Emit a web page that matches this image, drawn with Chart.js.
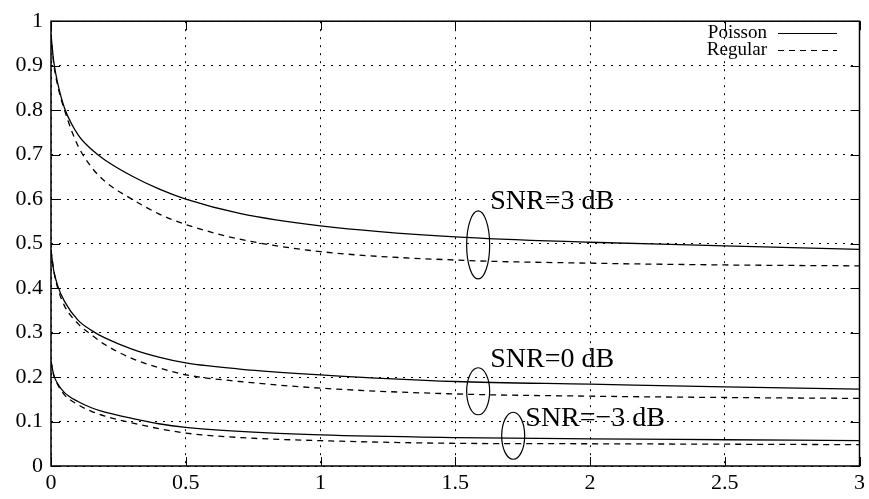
<!DOCTYPE html>
<html>
<head>
<meta charset="utf-8">
<script src="https://cdn.jsdelivr.net/npm/chart.js@4/dist/chart.umd.min.js"></script>
<style>
  html, body { margin: 0; padding: 0; background: #fff; }
  #wrap { width: 869px; height: 499px; }
</style>
</head>
<body>
<div id="wrap"><canvas id="snrChart" width="869" height="499"></canvas></div>
<script>
(() => {
  'use strict'

  const xValues = [0, 0.01, 0.025, 0.05, 0.1, 0.15, 0.2, 0.3, 0.4, 0.5, 0.7, 1, 1.5, 2, 2.5, 3];

  const poisson3dB = [0.97, 0.91, 0.86, 0.805, 0.745, 0.712, 0.688, 0.652, 0.623, 0.60, 0.568, 0.54, 0.515, 0.503, 0.495, 0.487];
  const regular3dB = [0.97, 0.905, 0.855, 0.80, 0.72, 0.672, 0.64, 0.60, 0.567, 0.543, 0.51, 0.482, 0.463, 0.456, 0.452, 0.45];
  const poisson0dB = [0.485, 0.44, 0.405, 0.37, 0.328, 0.305, 0.288, 0.263, 0.245, 0.232, 0.218, 0.205, 0.19, 0.184, 0.178, 0.173];
  const regular0dB = [0.485, 0.44, 0.40, 0.36, 0.32, 0.295, 0.273, 0.242, 0.221, 0.205, 0.19, 0.175, 0.162, 0.157, 0.154, 0.152];
  const poissonM3dB = [0.235, 0.205, 0.185, 0.165, 0.145, 0.131, 0.121, 0.107, 0.095, 0.087, 0.078, 0.07, 0.064, 0.061, 0.059, 0.057];
  const regularM3dB = [0.235, 0.205, 0.183, 0.16, 0.138, 0.123, 0.112, 0.097, 0.084, 0.074, 0.064, 0.057, 0.051, 0.05, 0.049, 0.048];

  const seriesLabels = ['Poisson', 'Regular'];

  // SNR annotations: ellipse centre and label anchor, in data units
  const snrTexts = ['SNR=3 dB', 'SNR=0 dB', 'SNR=\u22123 dB'];
  const ellipseX = [1.585, 1.585, 1.715];
  const ellipseY = [0.497, 0.168, 0.068];
  const ellipseRy = [34, 23.5, 23.5];
  const textX = [1.63, 1.63, 1.76];
  const textY = [0.594, 0.239, 0.107];

  const serif = '"Liberation Serif", "DejaVu Serif", serif';
  const toPoints = ys => xValues.map((x, i) => ({ x: x, y: ys[i] }));
  const fmt = v => String(+v.toFixed(2));

  const line = (label, ys, dashed) => ({
    label: label,
    data: toPoints(ys),
    borderColor: '#000',
    borderWidth: 1.3,
    borderDash: dashed ? [6, 5] : [],
    pointRadius: 0,
    fill: false,
    cubicInterpolationMode: 'monotone'
  });

  const frame = {
    id: 'frame',
    afterDraw(chart) {
      const { ctx, chartArea: a, scales } = chart;
      const xs = scales.x, ys = scales.y;
      ctx.save();
      ctx.strokeStyle = '#000';
      ctx.lineWidth = 1.5;
      ctx.setLineDash([]);
      ctx.strokeRect(a.left, a.top, a.right - a.left, a.bottom - a.top);

      // inward ticks on all four sides
      ctx.lineWidth = 1;
      const t = 9;
      ctx.beginPath();
      for (let v = 0; v <= 3.0001; v += 0.5) {
        const px = Math.round(xs.getPixelForValue(v)) + 0.5;
        ctx.moveTo(px, a.bottom); ctx.lineTo(px, a.bottom - t);
        ctx.moveTo(px, a.top); ctx.lineTo(px, a.top + t);
      }
      for (let v = 0; v <= 1.0001; v += 0.1) {
        const py = Math.round(ys.getPixelForValue(v)) + 0.5;
        ctx.moveTo(a.left, py); ctx.lineTo(a.left + t, py);
        ctx.moveTo(a.right, py); ctx.lineTo(a.right - t, py);
      }
      ctx.stroke();

      // ellipses and SNR labels
      ctx.lineWidth = 1.2;
      ctx.fillStyle = '#000';
      ctx.font = '28px ' + serif;
      ctx.textBaseline = 'middle';
      ctx.textAlign = 'left';
      snrTexts.forEach((txt, i) => {
        const cx = xs.getPixelForValue(ellipseX[i]);
        const cy = ys.getPixelForValue(ellipseY[i]);
        ctx.beginPath();
        ctx.ellipse(cx, cy, 11.5, ellipseRy[i], 0, 0, Math.PI * 2);
        ctx.stroke();
        ctx.fillText(txt, xs.getPixelForValue(textX[i]), ys.getPixelForValue(textY[i]));
      });

      // legend: text right-aligned, sample line after it
      ctx.font = '19px ' + serif;
      ctx.textAlign = 'right';
      const lx = 767, sx1 = 778, sx2 = 837;
      [[33, []], [50, [6, 5]]].forEach(([y, dash], i) => {
        ctx.fillText(seriesLabels[i], lx, y);
        ctx.setLineDash(dash);
        ctx.beginPath();
        ctx.moveTo(sx1, y + 0.5);
        ctx.lineTo(sx2, y + 0.5);
        ctx.stroke();
      });
      ctx.restore();
    }
  };

  const ctx1 = document.getElementById('snrChart');
  const snrChart = new Chart(ctx1, {
    type: 'line',
    data: {
      datasets: [
        line(seriesLabels[0], poisson3dB, false),
        line(seriesLabels[1], regular3dB, true),
        line(seriesLabels[0], poisson0dB, false),
        line(seriesLabels[1], regular0dB, true),
        line(seriesLabels[0], poissonM3dB, false),
        line(seriesLabels[1], regularM3dB, true)
      ]
    },
    options: {
      responsive: false,
      animation: false,
      layout: { padding: { top: 0, right: 4, left: 0, bottom: 0 } },
      scales: {
        x: {
          type: 'linear',
          min: 0,
          max: 3,
          ticks: { stepSize: 0.5, callback: fmt, color: '#000', font: { family: serif, size: 22 }, padding: 4, maxRotation: 0 },
          grid: { color: '#000', lineWidth: 1, drawTicks: false },
          border: { display: false, dash: [2, 6] },
          afterFit: s => { s.height = 33; }
        },
        y: {
          min: 0,
          max: 1,
          ticks: { stepSize: 0.1, callback: fmt, color: '#000', font: { family: serif, size: 22 }, padding: 8 },
          grid: { color: '#000', lineWidth: 1, drawTicks: false },
          border: { display: false, dash: [2, 6] },
          afterFit: s => { s.width = 51; }
        }
      },
      plugins: {
        legend: { display: false },
        tooltip: { enabled: false }
      }
    },
    plugins: [frame]
  });
})();
</script>
</body>
</html>
